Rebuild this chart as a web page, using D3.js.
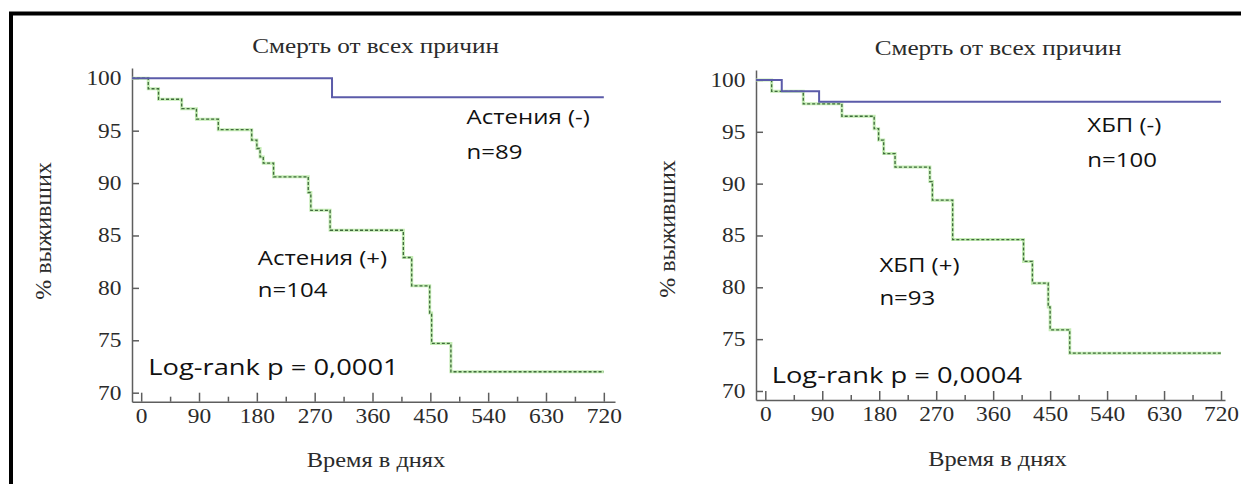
<!DOCTYPE html>
<html>
<head>
<meta charset="utf-8">
<script src="https://cdn.jsdelivr.net/npm/d3@7"></script>
<style>
  body { margin: 0; background: #fff; }
</style>
</head>
<body>
<script>
var width = 1241;
var height = 484;

// Астения: выживаемость (%) по дням
var astNegDays = [0, 297];
var astNegSurv = [100, 98.2];
var astPosDays = [0, 11, 27, 63, 86, 120, 172, 180, 185, 190, 206, 260, 264, 294, 408, 421, 449, 452, 482];
var astPosSurv = [100, 99.0, 98.0, 97.1, 96.1, 95.1, 94.1, 93.3, 92.5, 91.9, 90.6, 89.1, 87.4, 85.5, 82.9, 80.2, 77.6, 74.7, 72.0];

// ХБП
var ckdNegDays = [0, 26, 85];
var ckdNegSurv = [100, 98.9, 97.9];
var ckdPosDays = [0, 10, 60, 121, 172, 179, 187, 205, 260, 264, 296, 408, 422, 447, 450, 481];
var ckdPosSurv = [100, 98.9, 97.7, 96.5, 95.3, 94.2, 92.9, 91.6, 90.2, 88.4, 84.6, 82.5, 80.4, 78.1, 75.9, 73.65];

var endDay = 720;
var xTicks = [0, 90, 180, 270, 360, 450, 540, 630, 720];
var xMinorTicks = [45, 135, 225, 315, 405, 495, 585, 675];
var yTicks = [70, 75, 80, 85, 90, 95, 100];

var panels = [
  {
    xRange: [132, 615], xDomain: [-14.3, 737.4],
    yRange: [401.7, 68], yDomain: [69.14, 100.98],
    neg: [astNegDays, astNegSurv], pos: [astPosDays, astPosSurv],
    title: "Смерть от всех причин", titlePos: [375.6, 53],
    xTitle: "Время в днях", xTitlePos: [376, 467],
    yTitle: "% выживших", yTitlePos: [51, 231],
    notes: [
      ["Астения (-)", 466.6, 124],
      ["n=89", 466.6, 159],
      ["Астения (+)", 257.8, 265],
      ["n=104", 257.8, 297],
      ["Log-rank p = 0,0001", 148.3, 375, true]
    ]
  },
  {
    xRange: [756, 1225], xDomain: [-14.7, 726.3],
    yRange: [400, 70], yDomain: [69.13, 100.96],
    neg: [ckdNegDays, ckdNegSurv], pos: [ckdPosDays, ckdPosSurv],
    title: "Смерть от всех причин", titlePos: [998, 55],
    xTitle: "Время в днях", xTitlePos: [997.4, 466],
    yTitle: "% выживших", yTitlePos: [675, 229],
    notes: [
      ["ХБП (-)", 1087.3, 132],
      ["n=100", 1087.3, 167],
      ["ХБП (+)", 879.4, 272],
      ["n=93", 879.4, 305],
      ["Log-rank p = 0,0004", 771.7, 383, true]
    ]
  }
];

var serif = "'Liberation Serif', 'Times New Roman', serif";
var sans = "'Open Sans', 'Noto Sans', sans-serif";
var axisColor = "#5e5e5e";
var textColor = "#2b2b2b";

var svg = d3
  .select("body")
  .append("svg")
  .attr("width", width)
  .attr("height", height);

svg.append("rect").attr("width", width).attr("height", height).attr("fill", "#fff");

// рамка картинки
svg
  .append("rect")
  .attr("x", 11)
  .attr("y", 13.5)
  .attr("width", width + 20)
  .attr("height", height + 20)
  .attr("fill", "none")
  .attr("stroke", "#000")
  .attr("stroke-width", 4);

function addText(g, str, x, y, size, family, anchor, sx, rotate) {
  var tr = "translate(" + x + "," + y + ")";
  if (rotate) tr += " rotate(-90) scale(1," + sx + ")";
  else tr += " scale(" + sx + ",1)";
  return g
    .append("text")
    .attr("transform", tr)
    .attr("text-anchor", anchor)
    .attr("font-family", family)
    .attr("font-size", size)
    .attr("fill", textColor)
    .text(str);
}

function stepData(days, surv, x) {
  var pts = [[x.domain()[0], surv[0]]];
  days.forEach(function (d, i) {
    pts.push([d, surv[i]]);
  });
  pts.push([endDay, surv[surv.length - 1]]);
  return pts;
}

panels.forEach(function (p) {
  var g = svg.append("g");
  var x = d3.scaleLinear().domain(p.xDomain).range(p.xRange);
  var y = d3.scaleLinear().domain(p.yDomain).range(p.yRange);

  // ось X
  var gx = g
    .append("g")
    .attr("transform", "translate(0," + p.yRange[0] + ")")
    .call(d3.axisBottom(x).tickValues(xTicks).tickSizeInner(-9).tickSizeOuter(0).tickPadding(21));
  gx.selectAll("text")
    .attr("dy", 0)
    .attr("font-family", serif)
    .attr("font-size", 20)
    .attr("fill", textColor)
    .attr("transform", "scale(1.17,1)");

  g.append("g")
    .attr("transform", "translate(0," + p.yRange[0] + ")")
    .call(d3.axisBottom(x).tickValues(xMinorTicks).tickSizeInner(-5).tickSizeOuter(0).tickFormat(""))
    .select(".domain")
    .remove();

  // ось Y
  var gy = g
    .append("g")
    .attr("transform", "translate(" + p.xRange[0] + ",0)")
    .call(d3.axisLeft(y).tickValues(yTicks).tickSizeInner(-7).tickSizeOuter(0).tickPadding(9));
  gy.selectAll("text")
    .attr("font-family", serif)
    .attr("font-size", 20)
    .attr("fill", textColor)
    .attr("transform", "scale(1.17,1)");

  g.selectAll(".domain, .tick line").attr("stroke", axisColor).attr("stroke-width", 1.5);

  var line = d3
    .line()
    .curve(d3.curveStepAfter)
    .x(function (d) { return x(d[0]); })
    .y(function (d) { return y(d[1]); });

  var posPts = stepData(p.pos[0], p.pos[1], x);
  g.append("path")
    .datum(posPts)
    .attr("fill", "none")
    .attr("stroke", "#c4ecb4")
    .attr("stroke-width", 3)
    .attr("d", line);
  g.append("path")
    .datum(posPts)
    .attr("fill", "none")
    .attr("stroke", "#3f6a3c")
    .attr("stroke-width", 1.3)
    .attr("stroke-dasharray", "3,2")
    .attr("d", line);

  g.append("path")
    .datum(stepData(p.neg[0], p.neg[1], x))
    .attr("fill", "none")
    .attr("stroke", "#5b5ba9")
    .attr("stroke-width", 2)
    .attr("d", line);

  addText(g, p.title, p.titlePos[0], p.titlePos[1], 21, serif, "middle", 1.2);
  addText(g, p.xTitle, p.xTitlePos[0], p.xTitlePos[1], 20, serif, "middle", 1.22);
  addText(g, p.yTitle, p.yTitlePos[0], p.yTitlePos[1], 24, serif, "middle", 1.0, true);

  p.notes.forEach(function (n) {
    addText(g, n[0], n[1], n[2], n[3] ? 21 : 20, sans, "start", n[3] ? 1.3 : 1.2).attr("fill", "#111");
  });
});
</script>
</body>
</html>
